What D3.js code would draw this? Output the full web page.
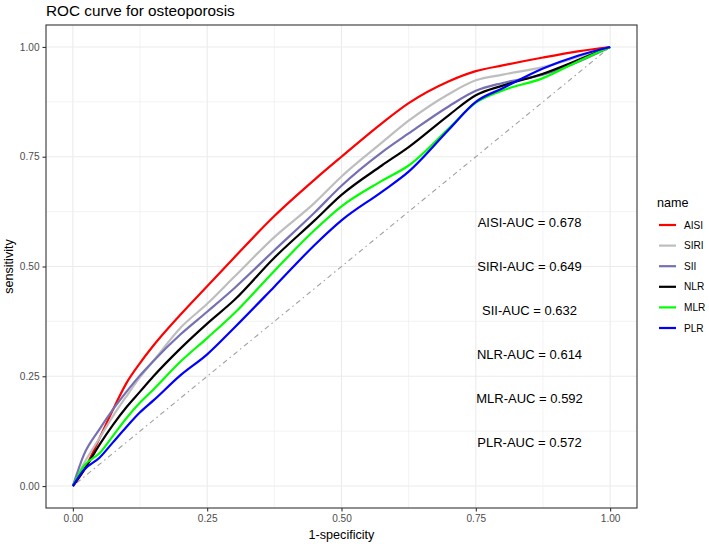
<!DOCTYPE html>
<html>
<head>
<meta charset="utf-8">
<script src="https://cdn.jsdelivr.net/npm/d3@7"></script>
<style>
  body { margin: 0; background: #fff; }
  svg { font-family: "Liberation Sans", Arial, sans-serif; }
</style>
</head>
<body>
<script>
// ROC points (shared false-positive rates)
var fpr  = [0, 0.02, 0.05, 0.075, 0.1, 0.125, 0.15, 0.2, 0.25, 0.3, 0.375, 0.45, 0.5, 0.575, 0.625, 0.7, 0.75, 0.8, 0.875, 0.94, 1];
var aisi = [0, 0.035, 0.11, 0.175, 0.235, 0.28, 0.32, 0.39, 0.455, 0.52, 0.615, 0.698, 0.750, 0.826, 0.872, 0.922, 0.945, 0.958, 0.976, 0.990, 1];
var siri = [0, 0.05, 0.11, 0.16, 0.205, 0.248, 0.285, 0.36, 0.415, 0.476, 0.567, 0.645, 0.705, 0.782, 0.832, 0.893, 0.924, 0.937, 0.954, 0.977, 1];
var sii  = [0, 0.07, 0.13, 0.175, 0.215, 0.252, 0.285, 0.345, 0.397, 0.45, 0.537, 0.623, 0.684, 0.76, 0.803, 0.865, 0.900, 0.918, 0.937, 0.966, 1];
var nlr  = [0, 0.035, 0.095, 0.14, 0.18, 0.215, 0.25, 0.313, 0.37, 0.423, 0.52, 0.605, 0.663, 0.73, 0.772, 0.845, 0.89, 0.912, 0.939, 0.97, 1];
var mlr  = [0, 0.045, 0.075, 0.115, 0.155, 0.19, 0.22, 0.283, 0.337, 0.393, 0.49, 0.583, 0.637, 0.695, 0.73, 0.815, 0.873, 0.901, 0.929, 0.967, 1];
var plr  = [0, 0.036, 0.065, 0.10, 0.135, 0.168, 0.195, 0.252, 0.30, 0.36, 0.454, 0.549, 0.605, 0.67, 0.716, 0.812, 0.875, 0.906, 0.951, 0.98, 1];

var names   = ["AISI", "SIRI", "SII", "NLR", "MLR", "PLR"];
var aucs    = ["0.678", "0.649", "0.632", "0.614", "0.592", "0.572"];
var aucY    = [0.6, 0.5, 0.4, 0.3, 0.2, 0.1];
var colors  = ["#FF0000", "#BEBEBE", "#7570B3", "#000000", "#00FF00", "#0000FF"];
var ticks   = [0, 0.25, 0.5, 0.75, 1];
var minor   = [0.125, 0.375, 0.625, 0.875];

var series = [aisi, siri, sii, nlr, mlr, plr];

var W = 709, H = 544;
var pLeft = 46, pRight = 637, pTop = 25, pBottom = 508;

var svg = d3.select("body").append("svg")
    .attr("width", W)
    .attr("height", H);

// ggplot style 5% expansion on both axes
var x = d3.scaleLinear().domain([-0.05, 1.05]).range([pLeft, pRight]);
var y = d3.scaleLinear().domain([-0.05, 1.05]).range([pBottom, pTop]);

// grid
svg.append("g").selectAll("line").data(minor).enter().append("line")
    .attr("x1", d => x(d)).attr("x2", d => x(d))
    .attr("y1", pTop).attr("y2", pBottom)
    .attr("stroke", "#EBEBEB").attr("stroke-width", 0.6);
svg.append("g").selectAll("line").data(minor).enter().append("line")
    .attr("y1", d => y(d)).attr("y2", d => y(d))
    .attr("x1", pLeft).attr("x2", pRight)
    .attr("stroke", "#EBEBEB").attr("stroke-width", 0.6);
svg.append("g").selectAll("line").data(ticks).enter().append("line")
    .attr("x1", d => x(d)).attr("x2", d => x(d))
    .attr("y1", pTop).attr("y2", pBottom)
    .attr("stroke", "#EBEBEB").attr("stroke-width", 1.1);
svg.append("g").selectAll("line").data(ticks).enter().append("line")
    .attr("y1", d => y(d)).attr("y2", d => y(d))
    .attr("x1", pLeft).attr("x2", pRight)
    .attr("stroke", "#EBEBEB").attr("stroke-width", 1.1);

// reference diagonal
svg.append("line")
    .attr("x1", x(0)).attr("y1", y(0))
    .attr("x2", x(1)).attr("y2", y(1))
    .attr("stroke", "#A0A0A0")
    .attr("stroke-width", 1.1)
    .attr("stroke-dasharray", "1.5,3.5,5,3.5");

// roc lines
var line = d3.line()
    .x((d, i) => x(fpr[i]))
    .y(d => y(d))
    .curve(d3.curveMonotoneX);

svg.append("g").selectAll("path").data(series).enter().append("path")
    .attr("d", d => line(d))
    .attr("fill", "none")
    .attr("stroke", (d, i) => colors[i])
    .attr("stroke-width", 2.2)
    .attr("stroke-linejoin", "round");

// AUC labels
svg.append("g").selectAll("text").data(names).enter().append("text")
    .attr("x", x(0.85))
    .attr("y", (d, i) => y(aucY[i]))
    .attr("dy", "0.35em")
    .attr("text-anchor", "middle")
    .style("font-size", "13px")
    .attr("fill", "#000")
    .text((d, i) => d + "-AUC = " + aucs[i]);

// panel border
svg.append("rect")
    .attr("x", pLeft).attr("y", pTop)
    .attr("width", pRight - pLeft).attr("height", pBottom - pTop)
    .attr("fill", "none")
    .attr("stroke", "#333333")
    .attr("stroke-width", 1.1);

// axes
var xAxis = svg.append("g")
    .attr("transform", "translate(0," + pBottom + ")")
    .call(d3.axisBottom(x).tickValues(ticks).tickFormat(d3.format(".2f")).tickSize(3.5).tickPadding(3));
var yAxis = svg.append("g")
    .attr("transform", "translate(" + pLeft + ",0)")
    .call(d3.axisLeft(y).tickValues(ticks).tickFormat(d3.format(".2f")).tickSize(3.5).tickPadding(3));
[xAxis, yAxis].forEach(function (a) {
  a.select(".domain").remove();
  a.selectAll(".tick line").attr("stroke", "#333333").attr("stroke-width", 1.1);
  a.selectAll(".tick text")
    .attr("fill", "#4D4D4D")
    .style("font-size", "10.1px")
    .style("font-family", "Liberation Sans, Arial, sans-serif");
});

// titles
svg.append("text")
    .attr("x", pLeft).attr("y", 15.5)
    .style("font-size", "15.3px")
    .text("ROC curve for osteoporosis");

svg.append("text")
    .attr("x", (pLeft + pRight) / 2).attr("y", 539)
    .attr("text-anchor", "middle")
    .style("font-size", "12.6px")
    .text("1-specificity");

svg.append("text")
    .attr("transform", "translate(13," + (pTop + pBottom) / 2 + ") rotate(-90)")
    .attr("text-anchor", "middle")
    .style("font-size", "12.6px")
    .text("sensitivity");

// legend
var legend = svg.append("g").attr("transform", "translate(657,0)");
legend.append("text")
    .attr("x", 0).attr("y", 206.5)
    .style("font-size", "12.6px")
    .text("name");

var keys = legend.selectAll("g.key").data(names).enter().append("g")
    .attr("class", "key")
    .attr("transform", (d, i) => "translate(0," + (225 + i * 20.6) + ")");
keys.append("line")
    .attr("x1", 2).attr("x2", 19)
    .attr("y1", 0).attr("y2", 0)
    .attr("stroke", (d, i) => colors[i])
    .attr("stroke-width", 2.2);
keys.append("text")
    .attr("x", 27).attr("y", 0)
    .attr("dy", "0.35em")
    .style("font-size", "10.1px")
    .text(d => d);
</script>
</body>
</html>
